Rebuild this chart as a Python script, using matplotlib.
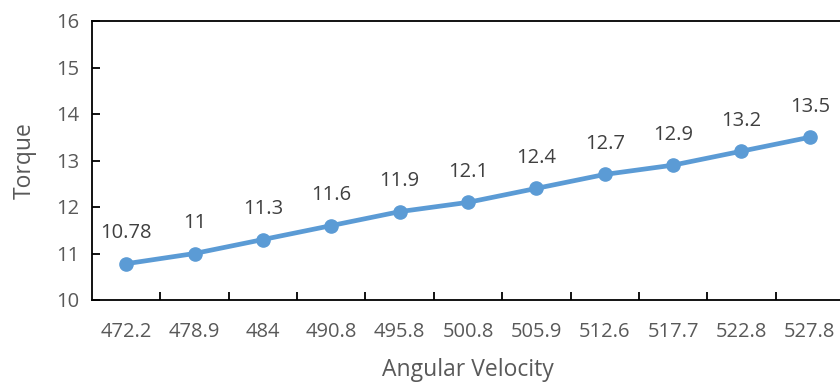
import matplotlib
matplotlib.use("Agg")
import matplotlib.pyplot as plt

categories = ["472.2", "478.9", "484", "490.8", "495.8", "500.8", "505.9", "512.6", "517.7", "522.8", "527.8"]
torque = [10.78, 11, 11.3, 11.6, 11.9, 12.1, 12.4, 12.7, 12.9, 13.2, 13.5]
value_labels = ["10.78", "11", "11.3", "11.6", "11.9", "12.1", "12.4", "12.7", "12.9", "13.2", "13.5"]

plt.rcParams['font.family'] = ['Open Sans', 'DejaVu Sans']
txt = '#595959'

fig = plt.figure(figsize=(8.4, 3.83), dpi=100)
W, H = 840, 383
left, right, top, bottom = 92, 844, 21, 300
ax = fig.add_axes([left / W, 1 - bottom / H, (right - left) / W, (bottom - top) / H])

x = list(range(len(categories)))
ax.plot(x, torque, color='#5B9BD5', lw=3.4, marker='o', markersize=9.5, zorder=3, clip_on=False)
for xi, yi, lab in zip(x, torque, value_labels):
    ax.annotate(lab, (xi, yi), xytext=(0, 22), textcoords='offset points',
                ha='center', va='center', fontsize=14.5, color='#404040')

ax.set_xlim(-0.5, len(categories) - 0.5)
ax.set_ylim(10, 16)
ax.set_yticks(range(10, 17))
ax.set_xticks(x)
ax.set_xticklabels(categories)
ax.set_xticks([i + 0.5 for i in range(len(categories) - 1)], minor=True)
ax.tick_params(axis='x', which='major', length=0, pad=16, labelsize=14.5, labelcolor=txt)
ax.tick_params(axis='x', which='minor', direction='in', length=6, width=1.3, color='black')
ax.tick_params(axis='y', direction='in', length=6, width=1.3, color='black', labelsize=14.5, labelcolor=txt, pad=9)

for s in ['left', 'top', 'bottom']:
    ax.spines[s].set_linewidth(1.3)
    ax.spines[s].set_color('black')
ax.spines['right'].set_visible(False)

ax.set_xlabel('Angular Velocity', fontsize=16.5, color=txt, labelpad=11)
ax.set_ylabel('Torque', fontsize=16.5, color=txt, labelpad=14)

fig.savefig('out.png', dpi=100)
